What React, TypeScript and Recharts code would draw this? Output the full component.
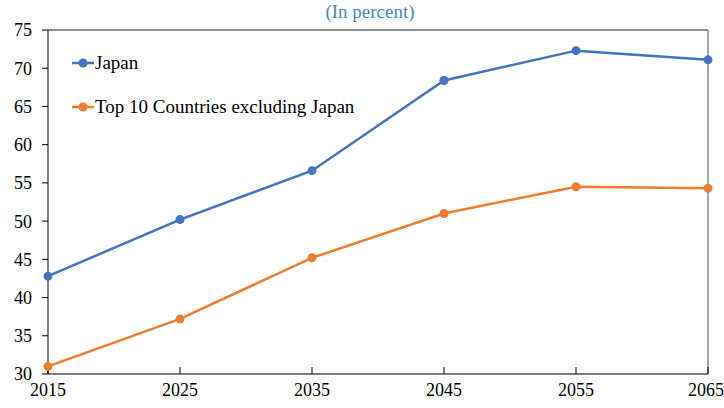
import { Line, LineChart, ReferenceLine, XAxis, YAxis } from "recharts";

const years = [2015, 2025, 2035, 2045, 2055, 2065];
const japan = [42.8, 50.2, 56.6, 68.4, 72.3, 71.1];
const top10 = [31.0, 37.2, 45.2, 51.0, 54.5, 54.3];
const yTicks = [30, 35, 40, 45, 50, 55, 60, 65, 70, 75];
const seriesNames = ["Japan", "Top 10 Countries excluding Japan"];

const data = years.map((year, i) => ({ year, japan: japan[i], top10: top10[i] }));

const FONT = "'Liberation Serif', 'Times New Roman', serif";
const BLUE = "#4472C4";
const ORANGE = "#ED7D31";

function LegendBox() {
  const colors = [BLUE, ORANGE];
  return (
    <div
      style={{
        position: "absolute",
        left: 72,
        top: 41,
        fontFamily: FONT,
        fontSize: 19,
        color: "#000",
      }}
    >
      {seriesNames.map((label, i) => (
        <div key={label} style={{ display: "flex", alignItems: "center", height: 44 }}>
          <svg width={22} height={10} style={{ marginRight: 1 }}>
            <line x1={0} x2={22} y1={5} y2={5} stroke={colors[i]} strokeWidth={2.5} />
            <circle cx={11} cy={5} r={4.5} fill={colors[i]} />
          </svg>
          <span>{label}</span>
        </div>
      ))}
    </div>
  );
}

export default function App() {
  return (
    <div style={{ position: "absolute", left: 0, top: 0, width: 724, height: 408, background: "#fff" }}>
      <LineChart width={724} height={408} data={data} margin={{ top: 30, right: 16, left: 0, bottom: 0 }}>
        <XAxis
          dataKey="year"
          type="number"
          domain={[2015, 2065]}
          ticks={years}
          tickSize={-7}
          tickMargin={16}
          height={34}
          stroke="#000"
          tick={{ fill: "#000", fontFamily: FONT, fontSize: 18 }}
        />
        <YAxis
          domain={[30, 75]}
          ticks={yTicks}
          width={48}
          tickSize={6}
          tickMargin={10}
          stroke="#000"
          tick={{ fill: "#000", fontFamily: FONT, fontSize: 18 }}
        />
        <ReferenceLine y={75} stroke="#222" strokeWidth={1} />
        <ReferenceLine x={2065} stroke="#888" strokeWidth={1.5} />
        <Line
          dataKey="japan"
          name={seriesNames[0]}
          stroke={BLUE}
          strokeWidth={2.5}
          dot={{ r: 4.5, fill: BLUE, stroke: BLUE, strokeWidth: 0 }}
          isAnimationActive={false}
        />
        <Line
          dataKey="top10"
          name={seriesNames[1]}
          stroke={ORANGE}
          strokeWidth={2.5}
          dot={{ r: 4.5, fill: ORANGE, stroke: ORANGE, strokeWidth: 0 }}
          isAnimationActive={false}
        />
      </LineChart>
      <div
        style={{
          position: "absolute",
          top: 0,
          left: 8,
          width: 724,
          textAlign: "center",
          fontFamily: FONT,
          fontSize: 19,
          color: "#4F86C0",
          lineHeight: "24px",
        }}
      >
        (In percent)
      </div>
      <LegendBox />
    </div>
  );
}
